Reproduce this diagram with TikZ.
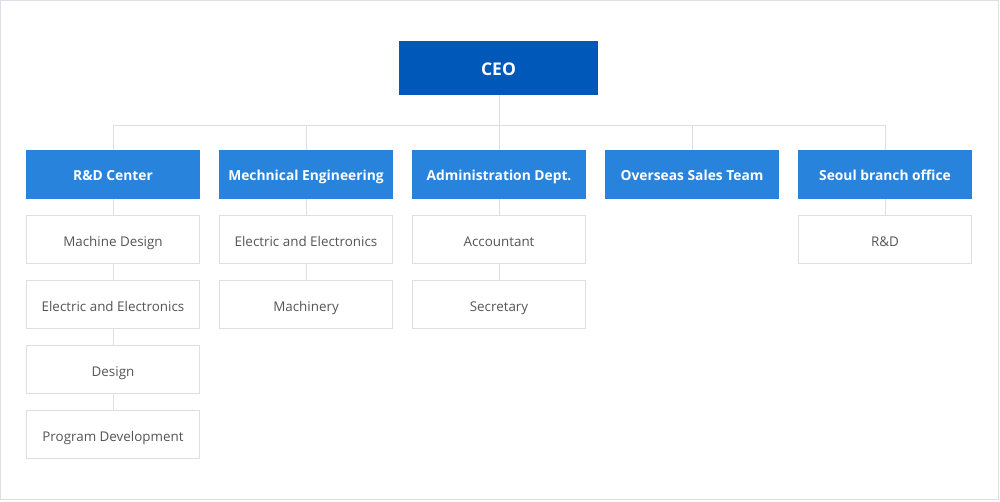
\documentclass[tikz,border=0pt]{standalone}
\usepackage{fontspec}
\setmainfont{Open Sans}
\definecolor{ceoblue}{HTML}{0058B8}
\definecolor{deptblue}{HTML}{2783DB}
\definecolor{linegray}{HTML}{DCDFE5}
\definecolor{textgray}{HTML}{555555}
\tikzset{
  ceobox/.style={draw=none, fill=ceoblue, text=white, minimum width=199pt, minimum height=54pt, inner sep=0pt, text height=15pt, text depth=1pt, font=\fontsize{17.5}{20}\selectfont\bfseries},
  deptbox/.style={draw=none, fill=deptblue, text=white, minimum width=174pt, minimum height=49pt, inner sep=0pt, text height=13.5pt, text depth=1pt, font=\fontsize{13.8}{16}\selectfont\bfseries},
  childbox/.style={draw=linegray, line width=1pt, fill=white, text=textgray, minimum width=173pt, minimum height=48pt, inner sep=0pt, text height=15pt, text depth=1pt, font=\fontsize{13.4}{16}\selectfont},
  conn/.style={draw=linegray, line width=1pt},
}
\begin{document}
\begin{tikzpicture}[x=1pt,y=-1pt]
\useasboundingbox (0,0) rectangle (1000,501);
\draw[linegray, line width=1pt] (0.5,0.5) rectangle (998.5,499.5);
% CEO
\node[ceobox] (ceo) at (498.5,68) {CEO};
% departments
\node[deptbox] (d1) at (113,174.5) {R\&D Center};
\node[deptbox] (d2) at (306,174.5) {Mechnical Engineering};
\node[deptbox] (d3) at (499,174.5) {Administration Dept.};
\node[deptbox] (d4) at (692,174.5) {Overseas Sales Team};
\node[deptbox] (d5) at (885,174.5) {Seoul branch office};
% bus
\coordinate (bus) at (499.5,125.5);
\draw[conn] (ceo.south -| bus) -- (bus);
\draw[conn] (d1.north) |- (bus) -| (d5.north);
\draw[conn] (d2.north) -- (d2.north |- bus);
\draw[conn] (d3.north) -- (d3.north |- bus);
\draw[conn] (d4.north) -- (d4.north |- bus);
% children R&D
\node[childbox] (c11) at (113,239.5) {Machine Design};
\node[childbox] (c12) at (113,304.5) {Electric and Electronics};
\node[childbox] (c13) at (113,369.5) {Design};
\node[childbox] (c14) at (113,434.5) {Program Development};
\draw[conn] (d1.south) -- (c11.north);
\draw[conn] (c11.south) -- (c12.north);
\draw[conn] (c12.south) -- (c13.north);
\draw[conn] (c13.south) -- (c14.north);
% children Mech
\node[childbox] (c21) at (306,239.5) {Electric and Electronics};
\node[childbox] (c22) at (306,304.5) {Machinery};
\draw[conn] (d2.south) -- (c21.north);
\draw[conn] (c21.south) -- (c22.north);
% children Admin
\node[childbox] (c31) at (499,239.5) {Accountant};
\node[childbox] (c32) at (499,304.5) {Secretary};
\draw[conn] (d3.south) -- (c31.north);
\draw[conn] (c31.south) -- (c32.north);
% children Seoul
\node[childbox] (c51) at (885,239.5) {R\&D};
\draw[conn] (d5.south) -- (c51.north);
\end{tikzpicture}
\end{document}
